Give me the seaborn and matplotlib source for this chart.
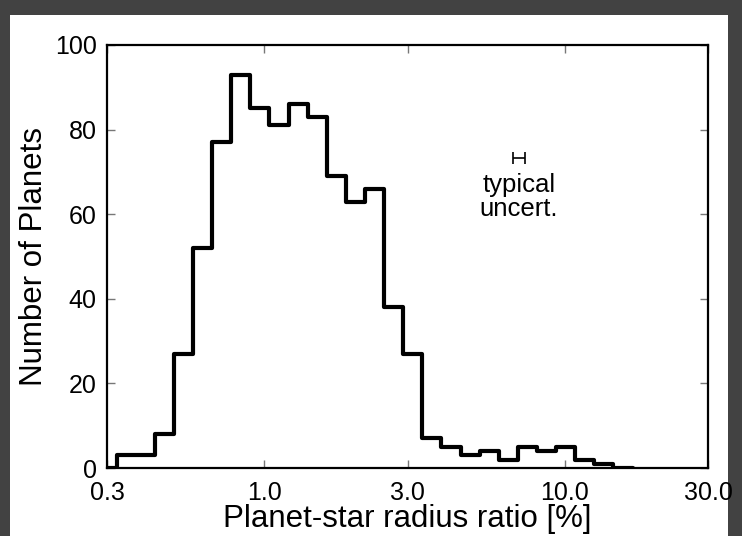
import numpy as np
import pandas as pd
import matplotlib
matplotlib.use("Agg")
import matplotlib.pyplot as plt
import seaborn as sns
from matplotlib.patches import Rectangle

# ---- data ----
# bin edges include an empty bin on each side, so the outline drops to zero
bin_edges = [0.2788, 0.3227, 0.3736, 0.4325, 0.5007, 0.5797, 0.6711, 0.7770,
             0.8995, 1.0414, 1.2056, 1.3957, 1.6159, 1.8707, 2.1658, 2.5073,
             2.9028, 3.3606, 3.8905, 4.5041, 5.2144, 6.0368, 6.9889, 8.0910,
             9.3672, 10.844, 12.554, 14.534, 16.826]
counts = [0, 3, 3, 8, 27, 52, 77, 93, 85, 81, 86, 83, 69, 63, 66, 38, 27,
          7, 5, 3, 4, 2, 5, 4, 5, 2, 1, 0]
xticks = [0.3, 1.0, 3.0, 10.0, 30.0]
xtick_labels = ["0.3", "1.0", "3.0", "10.0", "30.0"]
yticks = [0, 20, 40, 60, 80, 100]
uncert_x = 7.05
uncert_y = 73.3
uncert_xerr = [[0.32], [0.33]]

edges = np.array(bin_edges)
centers = np.sqrt(edges[:-1] * edges[1:])
df = pd.DataFrame({"ratio": centers, "n": counts})

sns.set_theme(style="ticks")
plt.rcParams["font.family"] = ["Liberation Sans", "DejaVu Sans"]

fig = plt.figure(figsize=(7.42, 5.36), dpi=100)
fig.patch.set_facecolor("#424242")
# white slide panel
fig.patches.append(Rectangle((10 / 742, 0), (728 - 10) / 742, 1 - 15 / 536,
                             transform=fig.transFigure, facecolor="white",
                             edgecolor="none", zorder=-10))

ax = fig.add_axes([107 / 742, 1 - 468 / 536, (708 - 107) / 742, (468 - 45) / 536])
ax.set_zorder(5)
ax.set_facecolor("white")
ax.set_xscale("log")

sns.histplot(data=df, x="ratio", weights="n", bins=[float(v) for v in np.log10(edges)],
             element="step", fill=False, color="black", linewidth=3.0, ax=ax)

ax.errorbar([uncert_x], [uncert_y], xerr=uncert_xerr, fmt="none",
            ecolor="black", elinewidth=1.2, capsize=4.5, capthick=1.2)
ax.text(uncert_x, 64.0, "typical\nuncert.", ha="center", va="center",
        fontsize=18.5, linespacing=1.0, color="black")

ax.set_xlim(0.3, 30.0)
ax.set_ylim(0, 100)
ax.xaxis.set_minor_locator(matplotlib.ticker.NullLocator())
ax.set_xticks(xticks)
ax.set_xticklabels(xtick_labels)
ax.set_yticks(yticks)
ax.tick_params(axis="both", which="major", direction="in", top=True, right=True,
               length=6, width=1, color="#777777", labelsize=18,
               labelcolor="black", pad=7.5)
ax.tick_params(axis="x", pad=9)
for s in ax.spines.values():
    s.set_visible(True)
    s.set_color("black")
    s.set_linewidth(1.6)

ax.set_xlabel("Planet-star radius ratio [%]", fontsize=22.5, color="black", labelpad=0)
ax.set_ylabel("Number of Planets", fontsize=22.5, color="black", labelpad=4)

fig.savefig("out.png", dpi=100, facecolor=fig.get_facecolor())
